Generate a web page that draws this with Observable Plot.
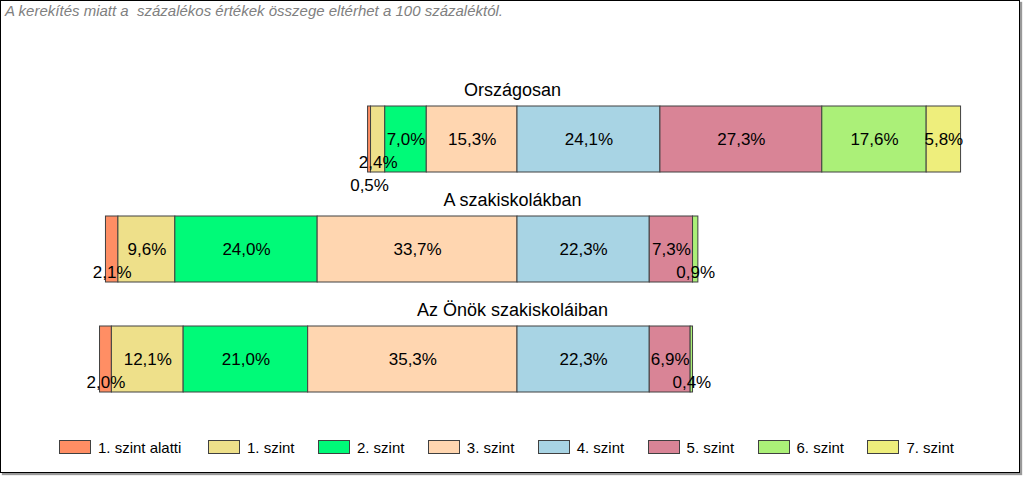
<!DOCTYPE html>
<html>
<head>
<meta charset="utf-8">
<script src="https://cdn.jsdelivr.net/npm/d3@7"></script>
<script src="https://cdn.jsdelivr.net/npm/@observablehq/plot@0.6"></script>
<style>
  html, body { margin: 0; padding: 0; background: #fff; }
  body { width: 1024px; height: 478px; position: relative; overflow: hidden; font-family: "Liberation Sans", Arial, sans-serif; }
  #frame { position: absolute; left: 0; top: 0; width: 1018px; height: 471px; border: 1px solid #000; box-shadow: 2px 2px 1px #999; }
  #note { position: absolute; left: 5px; top: 2px; font-size: 15px; line-height: 17px; font-style: italic; color: #808080; white-space: pre; }
  #chart { position: absolute; left: 0; top: 0; }
  #legend { position: absolute; left: 0; top: 0; width: 1024px; height: 478px; pointer-events: none; }
  .item { position: absolute; top: 440px; display: flex; align-items: center; height: 14px; font-size: 15px; color: #000; white-space: nowrap; }
  .sw { width: 30px; height: 12px; border: 1px solid #404040; margin-right: 7px; flex: none; }
</style>
</head>
<body>
<div id="frame"></div>
<div id="note"></div>
<div id="chart"></div>
<div id="legend"></div>
<script>
const note = "A kerekítés miatt a  százalékos értékek összege eltérhet a 100 százaléktól.";
const categories = ["Országosan", "A szakiskolákban", "Az Önök szakiskoláiban"];
const levels = ["1. szint alatti", "1. szint", "2. szint", "3. szint", "4. szint", "5. szint", "6. szint", "7. szint"];
const colors = ["#FF8E64", "#EEE08A", "#00FA78", "#FFD6B0", "#A8D4E4", "#D98496", "#ABF078", "#EEEE7C"];
const orszagosan = [0.5, 2.4, 7.0, 15.3, 24.1, 27.3, 17.6, 5.8];
const szakiskolak = [2.1, 9.6, 24.0, 33.7, 22.3, 7.3, 0.9, 0.0];
const onok = [2.0, 12.1, 21.0, 35.3, 22.3, 6.9, 0.4, 0.0];
const belowCenter = 4; // levels drawn left of the zero line

document.getElementById("note").textContent = note;

const series = [orszagosan, szakiskolak, onok];
const segs = [];
series.forEach((vals, ci) => {
  const leftSum = d3.sum(vals.slice(0, belowCenter));
  let pos = -leftSum;
  const rows = vals.map((v, li) => {
    const s = {cat: categories[ci], level: levels[li], value: v, x1: pos, x2: pos + v};
    pos += v;
    return s;
  });
  // offsets for small labels: runs of small segments are staggered downward
  let i = 0;
  while (i < rows.length) {
    if (rows[i].value > 0 && rows[i].value < 3) {
      let j = i;
      while (j < rows.length && rows[j].value > 0 && rows[j].value < 3) j++;
      const k = j - i;
      for (let m = i; m < j; m++) rows[m].dy = (k - (m - i)) * 23;
      i = j;
    } else { rows[i].dy = 0; i++; }
  }
  segs.push(...rows);
});

const fmt = v => v.toFixed(1).replace(".", ",") + "%";
const pxPerPct = 5.93, zeroPx = 517;

const chart = Plot.plot({
  width: 1024,
  height: 420,
  marginLeft: 0, marginRight: 0, marginTop: 0, marginBottom: 0,
  x: {domain: [-zeroPx / pxPerPct, (1024 - zeroPx) / pxPerPct], range: [0, 1024], axis: null},
  y: {domain: categories, range: [84, 414], paddingInner: 0.4, paddingOuter: 0.2, axis: null},
  color: {domain: levels, range: colors},
  style: {fontFamily: "'Liberation Sans', Arial, sans-serif", background: "transparent", overflow: "visible"},
  marks: [
    Plot.barX(segs.filter(d => d.value > 0), {x1: "x1", x2: "x2", y: "cat", fill: "level", stroke: "#404040", strokeWidth: 1}),
    ...[0, 23, 46].map(off =>
      Plot.text(segs.filter(d => d.value > 0 && d.dy === off), {
        x: d => (d.x1 + d.x2) / 2, y: "cat", text: d => fmt(d.value),
        dy: off, fontSize: 17, fill: "#000"
      })
    ),
    Plot.text(categories, {y: d => d, text: d => d, frameAnchor: "middle", dy: -49, fontSize: 18, fill: "#000"})
  ]
});
document.getElementById("chart").appendChild(chart);

const legend = d3.select("#legend");
levels.forEach((lv, i) => {
  const left = i === 0 ? 59 : 208 + (i - 1) * 109.9;
  const it = legend.append("div").attr("class", "item").style("left", left + "px");
  it.append("div").attr("class", "sw").style("background", colors[i]);
  it.append("span").text(lv);
});
</script>
</body>
</html>
